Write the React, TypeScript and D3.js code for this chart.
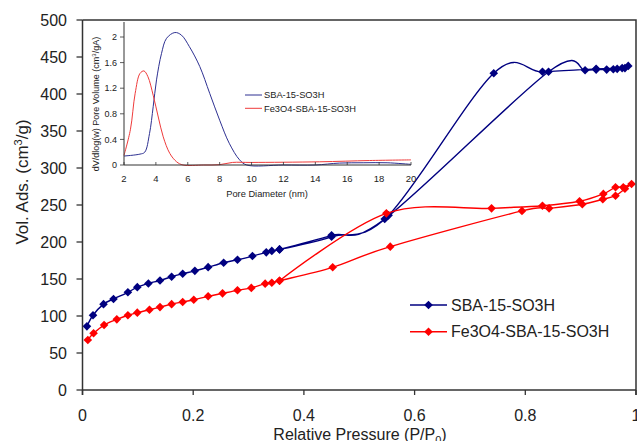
import React from "react";
import * as d3 from "d3";

// Main isotherm data (relative pressure, volume adsorbed)
const sbaAdsorption: [number, number][] = [
  [0.008, 86], [0.019, 101], [0.038, 116], [0.056, 123], [0.082, 132], [0.099, 139],
  [0.119, 144], [0.14, 148], [0.161, 153], [0.181, 157], [0.203, 161], [0.227, 166],
  [0.255, 172], [0.28, 176], [0.307, 181], [0.332, 186], [0.342, 188], [0.356, 190],
  [0.45, 209], [0.546, 231], [0.842, 430], [0.908, 432], [0.928, 433], [0.947, 433],
  [0.959, 433.5], [0.966, 434], [0.98, 435], [0.986, 438],
];
const sbaDesorption: [number, number][] = [
  [0.975, 435], [0.928, 434], [0.831, 430], [0.743, 428], [0.553, 236], [0.45, 207], [0.356, 190],
];
const feAdsorption: [number, number][] = [
  [0.0096, 67.6], [0.02, 76.6], [0.039, 87.8], [0.062, 95.5], [0.082, 101], [0.099, 104.5],
  [0.121, 108.5], [0.14, 112], [0.161, 116], [0.181, 119], [0.201, 122], [0.227, 126.6],
  [0.253, 130.6], [0.28, 134.7], [0.305, 138], [0.33, 143.7], [0.342, 145], [0.356, 147.7],
  [0.452, 165.8], [0.556, 193.7], [0.794, 242], [0.843, 245.5], [0.903, 251], [0.94, 257.7],
  [0.963, 262.6], [0.98, 272], [0.992, 278.4],
];
const feDesorption: [number, number][] = [
  [0.977, 274], [0.963, 274], [0.941, 265], [0.898, 255], [0.831, 249], [0.739, 245.5],
  [0.549, 238.7], [0.356, 147.7],
];

// Inset pore size distribution (pore diameter nm, dV/dlog(w))
const sbaPore: [number, number][] = [
  [2, 0.14], [3, 0.17], [3.3, 0.2], [3.6, 0.49], [3.83, 0.91], [4.04, 1.33], [4.35, 1.74],
  [4.67, 1.98], [5.19, 2.07], [5.6, 2.03], [6.1, 1.85], [6.75, 1.54], [7.375, 1.12],
  [8, 0.7], [8.6, 0.34], [9.25, 0.08], [9.7, 0], [12, 0], [14, 0], [15.5, 0.03],
  [17, 0.035], [18.5, 0.035], [20, 0.01],
];
const fePore: [number, number][] = [
  [2, 0.15], [2.4, 0.55], [2.7, 1.12], [3.0, 1.43], [3.25, 1.47], [3.5, 1.38], [3.83, 1.09],
  [4.15, 0.75], [4.46, 0.44], [4.875, 0.18], [5.3, 0.05], [5.7, 0], [7, 0], [8, 0.005],
  [8.8, 0.04], [10, 0.04], [14.25, 0.05], [17.4, 0.07], [20, 0.08],
];

const mainXTicks = [0, 0.2, 0.4, 0.6, 0.8, 1];
const mainYTicks = [0, 50, 100, 150, 200, 250, 300, 350, 400, 450, 500];
const insetXTicks = [2, 4, 6, 8, 10, 12, 14, 16, 18, 20];
const insetYTicks = [0, 0.4, 0.8, 1.2, 1.6, 2];
const seriesNames = ["SBA-15-SO3H", "Fe3O4-SBA-15-SO3H"];

const FONT = "'Liberation Sans', Arial, sans-serif";
const AXIS = "#333";
const TEXT = "#222";
const BLUE = "#000080";
const RED = "#ff0000";
const IBLUE = "#2e3192";
const IRED = "#ef3b3b";

export default function App() {
  const x = d3.scaleLinear().domain([0, 1]).range([82.5, 636]);
  const y = d3.scaleLinear().domain([0, 500]).range([390, 20]);
  const ix = d3.scaleLinear().domain([2, 20]).range([124, 411]);
  const iy = d3.scaleLinear().domain([0, 2]).range([165, 37]);

  const mainLine = d3
    .line<[number, number]>()
    .x((d) => x(d[0]))
    .y((d) => y(d[1]))
    .curve(d3.curveCardinal.tension(0));
  const insetLine = d3
    .line<[number, number]>()
    .x((d) => ix(d[0]))
    .y((d) => iy(d[1]))
    .curve(d3.curveCatmullRom);

  const diamond = (cx: number, cy: number, r = 4.3) =>
    `M${cx},${cy - r}L${cx + r},${cy}L${cx},${cy + r}L${cx - r},${cy}Z`;

  const sbaAll = [...sbaAdsorption, ...sbaDesorption];
  const feAll = [...feAdsorption, ...feDesorption];

  const series = [
    { pts: sbaAll, color: BLUE },
    { pts: feAll, color: RED },
  ];

  return (
    <svg
      width={637}
      height={441}
      style={{ position: "absolute", left: 0, top: 0, background: "#fff" }}
      fontFamily={FONT}
    >
      <rect width={637} height={441} fill="#fff" />
      {/* main series */}
      {series.map((s, i) => (
        <g key={i}>
          <path d={mainLine(s.pts) || ""} fill="none" stroke={s.color} strokeWidth={1.4} />
          {s.pts.map((p, j) => (
            <path key={j} d={diamond(x(p[0]), y(p[1]))} fill={s.color} />
          ))}
        </g>
      ))}

      {/* main frame */}
      <path d={`M82.5,20H636V395`} fill="none" stroke={AXIS} strokeWidth={1.5} />
      <line x1={82.5} x2={82.5} y1={20} y2={395} stroke={AXIS} strokeWidth={1.5} />
      <line x1={82.5} x2={636} y1={390} y2={390} stroke={AXIS} strokeWidth={1.5} />
      {mainYTicks.map((t) => (
        <g key={t}>
          <line x1={76.5} x2={82.5} y1={y(t)} y2={y(t)} stroke={AXIS} strokeWidth={1.3} />
          <text x={67} y={y(t)} dy="0.36em" textAnchor="end" fontSize={16} fill={TEXT}>
            {t}
          </text>
        </g>
      ))}
      {mainXTicks.map((t) => (
        <g key={t}>
          <line x1={x(t)} x2={x(t)} y1={390} y2={395} stroke={AXIS} strokeWidth={1.3} />
          <text x={x(t)} y={421} textAnchor="middle" fontSize={16} fill={TEXT}>
            {t}
          </text>
        </g>
      ))}
      <text x={360} y={440} textAnchor="middle" fontSize={16} fill={TEXT}>
        Relative Pressure (P/P
        <tspan fontSize={11} dy={4}>0</tspan>
        <tspan dy={-4}>)</tspan>
      </text>
      <text
        transform={`translate(28,182) rotate(-90)`}
        textAnchor="middle"
        fontSize={17}
        fill={TEXT}
      >
        Vol. Ads. (cm
        <tspan fontSize={11} dy={-6}>3</tspan>
        <tspan dy={6}>/g)</tspan>
      </text>

      {/* main legend */}
      {seriesNames.map((n, i) => {
        const ly = 305 + i * 26.7;
        const c = i === 0 ? BLUE : RED;
        return (
          <g key={n}>
            <line x1={410} x2={447} y1={ly} y2={ly} stroke={c} strokeWidth={1.4} />
            <path d={diamond(428.5, ly)} fill={c} />
            <text x={451} y={ly} dy="0.36em" fontSize={16} fill={TEXT}>
              {n}
            </text>
          </g>
        );
      })}

      {/* inset */}
      <path d={insetLine(sbaPore) || ""} fill="none" stroke={IBLUE} strokeWidth={1} />
      <path d={insetLine(fePore) || ""} fill="none" stroke={IRED} strokeWidth={1} />
      <line x1={124} x2={124} y1={22} y2={165} stroke={AXIS} strokeWidth={1} />
      <line x1={124} x2={411} y1={165} y2={165} stroke={AXIS} strokeWidth={1} />
      {insetYTicks.map((t) => (
        <g key={t}>
          <line x1={120} x2={124} y1={iy(t)} y2={iy(t)} stroke={AXIS} strokeWidth={0.8} />
          <text x={117} y={iy(t)} dy="0.35em" textAnchor="end" fontSize={9} fill={TEXT}>
            {t}
          </text>
        </g>
      ))}
      {insetXTicks.map((t) => (
        <g key={t}>
          <line x1={ix(t)} x2={ix(t)} y1={162} y2={165} stroke={AXIS} strokeWidth={0.8} />
          <text x={ix(t)} y={182} textAnchor="middle" fontSize={9.5} fill={TEXT}>
            {t}
          </text>
        </g>
      ))}
      <text x={267} y={197} textAnchor="middle" fontSize={9.3} fill={TEXT}>
        Pore Diameter (nm)
      </text>
      <text
        transform={`translate(99,104) rotate(-90)`}
        textAnchor="middle"
        fontSize={9}
        fill={TEXT}
      >
        dV/dlog(w) Pore Volume (cm
        <tspan fontSize={6} dy={-3}>3</tspan>
        <tspan dy={3}>/gA)</tspan>
      </text>
      {seriesNames.map((n, i) => {
        const ly = 95 + i * 13.3;
        const c = i === 0 ? IBLUE : IRED;
        return (
          <g key={n}>
            <line x1={245} x2={262} y1={ly} y2={ly} stroke={c} strokeWidth={1} />
            <text x={264} y={ly} dy="0.35em" fontSize={9.3} fill={TEXT}>
              {n}
            </text>
          </g>
        );
      })}
    </svg>
  );
}
